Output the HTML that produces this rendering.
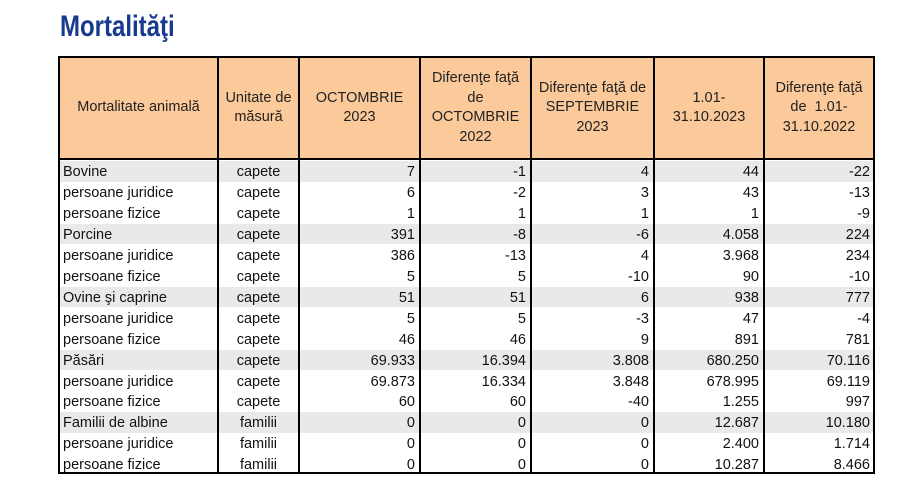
<!DOCTYPE html>
<html>
<head>
<meta charset="utf-8">
<style>
  html,body{margin:0;padding:0;background:#fff;}
  body{width:910px;height:492px;position:relative;overflow:hidden;font-family:"Liberation Sans",Arial,sans-serif;}
  .title{position:absolute;left:60px;top:12px;font-size:30px;line-height:30px;font-weight:bold;color:#17398f;transform:scaleX(0.8);transform-origin:0 0;white-space:nowrap;}
  .hdr{position:absolute;top:58px;height:100px;background:#fcca9a;}
  .vl{position:absolute;top:56px;height:418px;width:2px;background:#000;}
  .hl{position:absolute;left:58px;width:817px;height:2px;background:#000;}
  .gray{position:absolute;left:60px;width:813px;height:20.5px;background:#e9e9e9;}
  .hc{position:absolute;top:58px;height:100px;display:flex;align-items:center;justify-content:center;text-align:center;font-size:14.5px;line-height:19.5px;color:#222;}
  .c{position:absolute;font-size:14.5px;line-height:21px;height:21px;color:#111;white-space:nowrap;}
  .l{text-align:left;padding-left:3px;box-sizing:border-box;}
  .m{text-align:center;}
  .r{text-align:right;padding-right:4px;box-sizing:border-box;}
</style>
</head>
<body>
<div class="title">Mortalităţi</div>

<div class="hdr" style="left:60px;width:813px;"></div>

<div class="gray" style="top:161px;"></div>
<div class="gray" style="top:223.85px;"></div>
<div class="gray" style="top:286.7px;"></div>
<div class="gray" style="top:349.55px;"></div>
<div class="gray" style="top:412.4px;"></div>

<div class="hc" style="left:60px;width:157px;">Mortalitate animală</div>
<div class="hc" style="left:219px;width:79px;">Unitate de<br>măsură</div>
<div class="hc" style="left:300px;width:119px;">OCTOMBRIE<br>2023</div>
<div class="hc" style="left:421px;width:109px;">Diferenţe faţă<br>de<br>OCTOMBRIE<br>2022</div>
<div class="hc" style="left:532px;width:121px;">Diferenţe faţă de<br>SEPTEMBRIE<br>2023</div>
<div class="hc" style="left:655px;width:108px;">1.01-<br>31.10.2023</div>
<div class="hc" style="left:765px;width:108px;">Diferenţe faţă<br>de&nbsp; 1.01-<br>31.10.2022</div>

<div class="hl" style="top:56px;"></div>
<div class="hl" style="top:158px;"></div>
<div class="hl" style="top:472px;"></div>
<div class="vl" style="left:58px;"></div>
<div class="vl" style="left:217px;"></div>
<div class="vl" style="left:298px;"></div>
<div class="vl" style="left:419px;"></div>
<div class="vl" style="left:530px;"></div>
<div class="vl" style="left:653px;"></div>
<div class="vl" style="left:763px;"></div>
<div class="vl" style="left:873px;"></div>

<div class="c l" style="left:60px;width:157px;top:162px;">Bovine</div>
<div class="c m" style="left:219px;width:79px;top:162px;">capete</div>
<div class="c r" style="left:300px;width:119px;top:162px;">7</div>
<div class="c r" style="left:421px;width:109px;top:162px;">-1</div>
<div class="c r" style="left:532px;width:121px;top:162px;">4</div>
<div class="c r" style="left:655px;width:108px;top:162px;">44</div>
<div class="c r" style="left:765px;width:108px;top:162px;padding-right:3px;">-22</div>

<div class="c l" style="left:60px;width:157px;top:182.95px;">persoane juridice</div>
<div class="c m" style="left:219px;width:79px;top:182.95px;">capete</div>
<div class="c r" style="left:300px;width:119px;top:182.95px;">6</div>
<div class="c r" style="left:421px;width:109px;top:182.95px;">-2</div>
<div class="c r" style="left:532px;width:121px;top:182.95px;">3</div>
<div class="c r" style="left:655px;width:108px;top:182.95px;">43</div>
<div class="c r" style="left:765px;width:108px;top:182.95px;padding-right:3px;">-13</div>

<div class="c l" style="left:60px;width:157px;top:203.9px;">persoane fizice</div>
<div class="c m" style="left:219px;width:79px;top:203.9px;">capete</div>
<div class="c r" style="left:300px;width:119px;top:203.9px;">1</div>
<div class="c r" style="left:421px;width:109px;top:203.9px;">1</div>
<div class="c r" style="left:532px;width:121px;top:203.9px;">1</div>
<div class="c r" style="left:655px;width:108px;top:203.9px;">1</div>
<div class="c r" style="left:765px;width:108px;top:203.9px;padding-right:3px;">-9</div>

<div class="c l" style="left:60px;width:157px;top:224.85px;">Porcine</div>
<div class="c m" style="left:219px;width:79px;top:224.85px;">capete</div>
<div class="c r" style="left:300px;width:119px;top:224.85px;">391</div>
<div class="c r" style="left:421px;width:109px;top:224.85px;">-8</div>
<div class="c r" style="left:532px;width:121px;top:224.85px;">-6</div>
<div class="c r" style="left:655px;width:108px;top:224.85px;">4.058</div>
<div class="c r" style="left:765px;width:108px;top:224.85px;padding-right:3px;">224</div>

<div class="c l" style="left:60px;width:157px;top:245.8px;">persoane juridice</div>
<div class="c m" style="left:219px;width:79px;top:245.8px;">capete</div>
<div class="c r" style="left:300px;width:119px;top:245.8px;">386</div>
<div class="c r" style="left:421px;width:109px;top:245.8px;">-13</div>
<div class="c r" style="left:532px;width:121px;top:245.8px;">4</div>
<div class="c r" style="left:655px;width:108px;top:245.8px;">3.968</div>
<div class="c r" style="left:765px;width:108px;top:245.8px;padding-right:3px;">234</div>

<div class="c l" style="left:60px;width:157px;top:266.75px;">persoane fizice</div>
<div class="c m" style="left:219px;width:79px;top:266.75px;">capete</div>
<div class="c r" style="left:300px;width:119px;top:266.75px;">5</div>
<div class="c r" style="left:421px;width:109px;top:266.75px;">5</div>
<div class="c r" style="left:532px;width:121px;top:266.75px;">-10</div>
<div class="c r" style="left:655px;width:108px;top:266.75px;">90</div>
<div class="c r" style="left:765px;width:108px;top:266.75px;padding-right:3px;">-10</div>

<div class="c l" style="left:60px;width:157px;top:287.7px;">Ovine şi caprine</div>
<div class="c m" style="left:219px;width:79px;top:287.7px;">capete</div>
<div class="c r" style="left:300px;width:119px;top:287.7px;">51</div>
<div class="c r" style="left:421px;width:109px;top:287.7px;">51</div>
<div class="c r" style="left:532px;width:121px;top:287.7px;">6</div>
<div class="c r" style="left:655px;width:108px;top:287.7px;">938</div>
<div class="c r" style="left:765px;width:108px;top:287.7px;padding-right:3px;">777</div>

<div class="c l" style="left:60px;width:157px;top:308.65px;">persoane juridice</div>
<div class="c m" style="left:219px;width:79px;top:308.65px;">capete</div>
<div class="c r" style="left:300px;width:119px;top:308.65px;">5</div>
<div class="c r" style="left:421px;width:109px;top:308.65px;">5</div>
<div class="c r" style="left:532px;width:121px;top:308.65px;">-3</div>
<div class="c r" style="left:655px;width:108px;top:308.65px;">47</div>
<div class="c r" style="left:765px;width:108px;top:308.65px;padding-right:3px;">-4</div>

<div class="c l" style="left:60px;width:157px;top:329.6px;">persoane fizice</div>
<div class="c m" style="left:219px;width:79px;top:329.6px;">capete</div>
<div class="c r" style="left:300px;width:119px;top:329.6px;">46</div>
<div class="c r" style="left:421px;width:109px;top:329.6px;">46</div>
<div class="c r" style="left:532px;width:121px;top:329.6px;">9</div>
<div class="c r" style="left:655px;width:108px;top:329.6px;">891</div>
<div class="c r" style="left:765px;width:108px;top:329.6px;padding-right:3px;">781</div>

<div class="c l" style="left:60px;width:157px;top:350.55px;">Păsări</div>
<div class="c m" style="left:219px;width:79px;top:350.55px;">capete</div>
<div class="c r" style="left:300px;width:119px;top:350.55px;">69.933</div>
<div class="c r" style="left:421px;width:109px;top:350.55px;">16.394</div>
<div class="c r" style="left:532px;width:121px;top:350.55px;">3.808</div>
<div class="c r" style="left:655px;width:108px;top:350.55px;">680.250</div>
<div class="c r" style="left:765px;width:108px;top:350.55px;padding-right:3px;">70.116</div>

<div class="c l" style="left:60px;width:157px;top:371.5px;">persoane juridice</div>
<div class="c m" style="left:219px;width:79px;top:371.5px;">capete</div>
<div class="c r" style="left:300px;width:119px;top:371.5px;">69.873</div>
<div class="c r" style="left:421px;width:109px;top:371.5px;">16.334</div>
<div class="c r" style="left:532px;width:121px;top:371.5px;">3.848</div>
<div class="c r" style="left:655px;width:108px;top:371.5px;">678.995</div>
<div class="c r" style="left:765px;width:108px;top:371.5px;padding-right:3px;">69.119</div>

<div class="c l" style="left:60px;width:157px;top:392.45px;">persoane fizice</div>
<div class="c m" style="left:219px;width:79px;top:392.45px;">capete</div>
<div class="c r" style="left:300px;width:119px;top:392.45px;">60</div>
<div class="c r" style="left:421px;width:109px;top:392.45px;">60</div>
<div class="c r" style="left:532px;width:121px;top:392.45px;">-40</div>
<div class="c r" style="left:655px;width:108px;top:392.45px;">1.255</div>
<div class="c r" style="left:765px;width:108px;top:392.45px;padding-right:3px;">997</div>

<div class="c l" style="left:60px;width:157px;top:413.4px;">Familii de albine</div>
<div class="c m" style="left:219px;width:79px;top:413.4px;">familii</div>
<div class="c r" style="left:300px;width:119px;top:413.4px;">0</div>
<div class="c r" style="left:421px;width:109px;top:413.4px;">0</div>
<div class="c r" style="left:532px;width:121px;top:413.4px;">0</div>
<div class="c r" style="left:655px;width:108px;top:413.4px;">12.687</div>
<div class="c r" style="left:765px;width:108px;top:413.4px;padding-right:3px;">10.180</div>

<div class="c l" style="left:60px;width:157px;top:434.35px;">persoane juridice</div>
<div class="c m" style="left:219px;width:79px;top:434.35px;">familii</div>
<div class="c r" style="left:300px;width:119px;top:434.35px;">0</div>
<div class="c r" style="left:421px;width:109px;top:434.35px;">0</div>
<div class="c r" style="left:532px;width:121px;top:434.35px;">0</div>
<div class="c r" style="left:655px;width:108px;top:434.35px;">2.400</div>
<div class="c r" style="left:765px;width:108px;top:434.35px;padding-right:3px;">1.714</div>

<div class="c l" style="left:60px;width:157px;top:455.3px;">persoane fizice</div>
<div class="c m" style="left:219px;width:79px;top:455.3px;">familii</div>
<div class="c r" style="left:300px;width:119px;top:455.3px;">0</div>
<div class="c r" style="left:421px;width:109px;top:455.3px;">0</div>
<div class="c r" style="left:532px;width:121px;top:455.3px;">0</div>
<div class="c r" style="left:655px;width:108px;top:455.3px;">10.287</div>
<div class="c r" style="left:765px;width:108px;top:455.3px;padding-right:3px;">8.466</div>
</body>
</html>
